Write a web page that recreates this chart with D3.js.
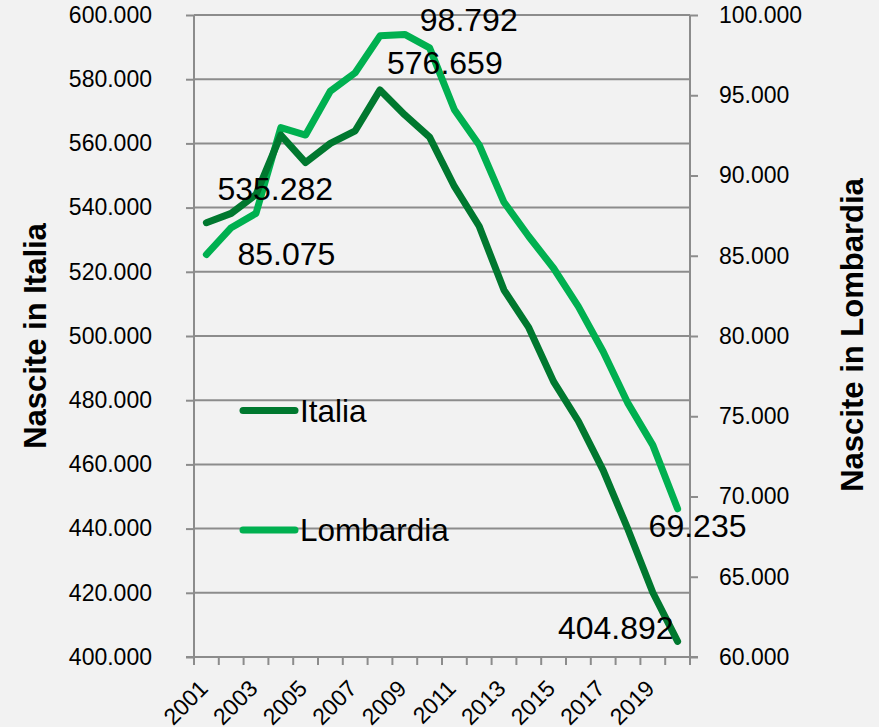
<!DOCTYPE html>
<html>
<head>
<meta charset="utf-8">
<script src="https://cdn.jsdelivr.net/npm/d3@7"></script>
<style>
  html, body { margin: 0; padding: 0; background: #f2f2f2; }
  svg { display: block; font-family: "Liberation Sans", Arial, sans-serif; }
</style>
</head>
<body>
<div id="chart"></div>
<script>
// Nascite 2001-2020 (ISTAT)
var years = ["2001", "2002", "2003", "2004", "2005", "2006", "2007", "2008", "2009", "2010",
             "2011", "2012", "2013", "2014", "2015", "2016", "2017", "2018", "2019", "2020"];
var italia = [535282, 538198, 544063, 562599, 554022, 560010, 563933, 576659, 568857, 561944,
              546585, 534186, 514308, 502596, 485780, 473438, 458151, 439747, 420084, 404892];
var lombardia = [85075, 86750, 87640, 92980, 92520, 95260, 96400, 98700, 98792, 97950,
                 94100, 91900, 88330, 86200, 84220, 81830, 79020, 75800, 73200, 69235];
var yearLabels = ["2001", "2003", "2005", "2007", "2009", "2011", "2013", "2015", "2017", "2019"];
var leftTicks = [400000, 420000, 440000, 460000, 480000, 500000, 520000, 540000, 560000, 580000, 600000];
var rightTicks = [60000, 65000, 70000, 75000, 80000, 85000, 90000, 95000, 100000];

// labelled points: [index, dx, dy, anchor]
var italiaLabels = [[0, 11, -23, "start"], [7, 7, -16, "start"], [19, -4, -2, "end"]];
var lombardiaLabels = [[0, 31, 10, "start"], [8, 15, -3, "start"], [19, -29, 28, "start"]];

var W = 879, H = 727;
var margin = {top: 15, right: 189, bottom: 70, left: 194};
var width = W - margin.left - margin.right,
    height = H - margin.top - margin.bottom;

var darkGreen = "#00782f", lightGreen = "#00b050", grey = "#8c8c8c";

var fmt = function(v) { return d3.format(",.0f")(v).replace(/,/g, "."); };

var svg = d3.select("#chart").append("svg")
    .attr("width", W)
    .attr("height", H);

var g = svg.append("g")
    .attr("transform", "translate(" + margin.left + "," + margin.top + ")");

var x = d3.scaleBand().domain(years).range([0, width]);
var yL = d3.scaleLinear().domain([400000, 600000]).range([height, 0]);
var yR = d3.scaleLinear().domain([60000, 100000]).range([height, 0]);

// gridlines
g.append("g").selectAll("line")
    .data(leftTicks.slice(1))
    .enter().append("line")
    .attr("x1", 0).attr("x2", width)
    .attr("y1", function(d) { return yL(d); })
    .attr("y2", function(d) { return yL(d); })
    .attr("stroke", grey).attr("stroke-width", 2);

// left axis
var leftAxis = g.append("g")
    .call(d3.axisLeft(yL).tickValues(leftTicks).tickSize(8).tickPadding(34).tickFormat(fmt));

// right axis
var rightAxis = g.append("g")
    .attr("transform", "translate(" + width + ",0)")
    .call(d3.axisRight(yR).tickValues(rightTicks).tickSize(8).tickPadding(21).tickFormat(fmt));

// bottom axis: ticks on category boundaries
var bottom = g.append("g").attr("transform", "translate(0," + height + ")");
bottom.append("line")
    .attr("x1", -8).attr("x2", width + 8)
    .attr("stroke", grey).attr("stroke-width", 2);
bottom.selectAll("line.tick")
    .data(years.concat(["end"]))
    .enter().append("line")
    .attr("class", "tick")
    .attr("x1", function(d, i) { return i * x.step(); })
    .attr("x2", function(d, i) { return i * x.step(); })
    .attr("y1", 0).attr("y2", 8)
    .attr("stroke", grey).attr("stroke-width", 2);
bottom.selectAll("text")
    .data(yearLabels)
    .enter().append("text")
    .attr("transform", function(d) {
        return "translate(" + (x(d) + x.bandwidth() / 2 + 3) + ",33) rotate(-45)";
    })
    .attr("text-anchor", "end")
    .attr("font-size", 23)
    .attr("fill", "#000")
    .text(function(d) { return d; });

[leftAxis, rightAxis].forEach(function(a) {
    a.select(".domain").attr("stroke", grey).attr("stroke-width", 2);
    a.selectAll(".tick line").attr("stroke", grey).attr("stroke-width", 2);
    a.selectAll(".tick text").attr("font-size", 23).attr("fill", "#000")
        .attr("font-family", "Liberation Sans, Arial, sans-serif");
});
leftAxis.select(".domain").attr("d", "M0," + (height + 8) + "V0");
rightAxis.select(".domain").attr("d", "M0," + (height + 8) + "V0");

// lines
var cx = function(i) { return x(years[i]) + x.bandwidth() / 2; };

var lineL = d3.line().x(function(d, i) { return cx(i); }).y(function(d) { return yL(d); });
var lineR = d3.line().x(function(d, i) { return cx(i); }).y(function(d) { return yR(d); });

g.append("path").datum(lombardia)
    .attr("d", lineR)
    .attr("fill", "none").attr("stroke", lightGreen)
    .attr("stroke-width", 7).attr("stroke-linejoin", "round").attr("stroke-linecap", "round");

g.append("path").datum(italia)
    .attr("d", lineL)
    .attr("fill", "none").attr("stroke", darkGreen)
    .attr("stroke-width", 7).attr("stroke-linejoin", "round").attr("stroke-linecap", "round");

// data labels
function addLabels(list, values, scale) {
    g.append("g").selectAll("text")
        .data(list)
        .enter().append("text")
        .attr("x", function(d) { return cx(d[0]) + d[1]; })
        .attr("y", function(d) { return scale(values[d[0]]) + d[2]; })
        .attr("text-anchor", function(d) { return d[3]; })
        .attr("font-size", 32)
        .attr("fill", "#000")
        .text(function(d) { return fmt(values[d[0]]); });
}
addLabels(italiaLabels, italia, yL);
addLabels(lombardiaLabels, lombardia, yR);

// legend
var legend = [["Italia", darkGreen, 410.5], ["Lombardia", lightGreen, 530]];
var lg = svg.append("g").selectAll("g")
    .data(legend)
    .enter().append("g")
    .attr("transform", function(d) { return "translate(0," + d[2] + ")"; });
lg.append("line")
    .attr("x1", 243).attr("x2", 295)
    .attr("stroke", function(d) { return d[1]; })
    .attr("stroke-width", 7).attr("stroke-linecap", "round");
lg.append("text")
    .attr("x", 300).attr("y", 11)
    .attr("font-size", 31.5)
    .attr("fill", "#000")
    .text(function(d) { return d[0]; });

// axis titles
svg.append("text")
    .attr("transform", "translate(46,336) rotate(-90)")
    .attr("text-anchor", "middle")
    .attr("font-size", 31).attr("font-weight", "bold")
    .text("Nascite in Italia");

svg.append("text")
    .attr("transform", "translate(863,335) rotate(-90)")
    .attr("text-anchor", "middle")
    .attr("font-size", 31).attr("font-weight", "bold")
    .text("Nascite in Lombardia");
</script>
</body>
</html>
